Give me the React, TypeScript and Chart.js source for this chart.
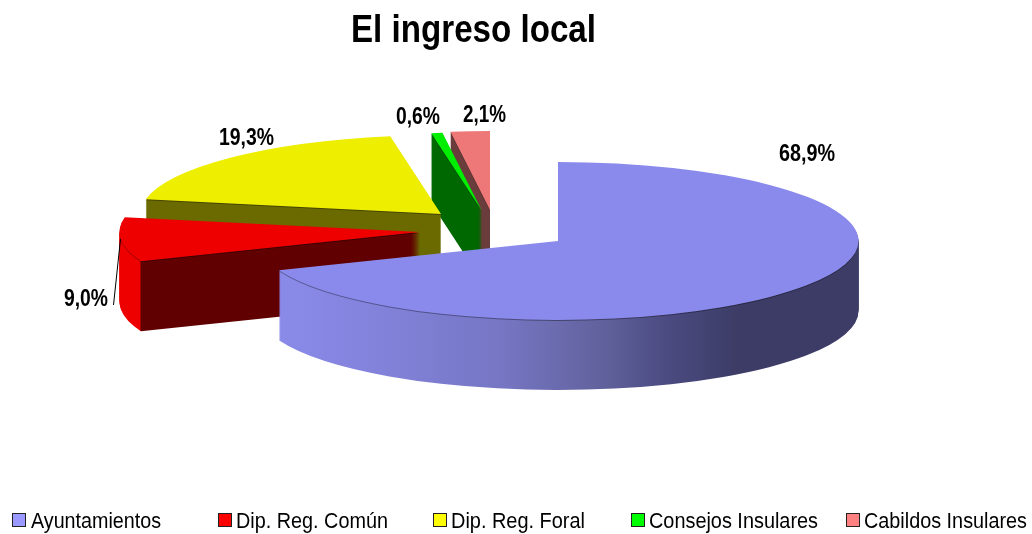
import React, { useEffect, useRef } from "react";
import { Chart, registerables } from "chart.js";

Chart.register(...registerables);

const chartTitle = "El ingreso local";
const categories = ["Ayuntamientos", "Dip. Reg. Común", "Dip. Reg. Foral", "Consejos Insulares", "Cabildos Insulares"];
const shares = [68.9, 9.0, 19.3, 0.6, 2.1];

const topColors = ["#8a8aec", "#ee0000", "#eeee00", "#00ee00", "#ee7878"];
const legendColors = ["#9999ff", "#ff0000", "#ffff00", "#00ff00", "#ff8080"];

// wall colour ramps: [screen x, colour]
const wallRamps: [number, string][][] = [
  [[277, "#8a8aea"], [360, "#8484de"], [500, "#7676c4"], [600, "#62629e"], [670, "#4a4a80"], [740, "#3c3c66"], [860, "#3c3c66"]],
  [[100, "#ee0000"], [140, "#ee0000"], [141, "#600000"], [430, "#600000"]],
  [[100, "#6a6a00"], [450, "#6a6a00"]],
  [[400, "#006800"], [500, "#006800"]],
  [[400, "#6a3c3c"], [500, "#6a3c3c"]],
];

// 3D projection layout
const pieCenter = { x: 558, y: 241 };
const radiusX = 300.5;
const radiusY = 79;
const depth = 70;
const explodeX = [0, -138, -117, -76, -68];
const explodeY = [0, -9, -27, -30, -31];
const paintOrder = [4, 3, 2, 1, 0];

// text layout: centre x, centre y, fitted width
const dataLabelLayout = [
  { x: 807, y: 154.5, w: 56 },
  { x: 86, y: 299.5, w: 44 },
  { x: 246.5, y: 138.5, w: 55 },
  { x: 418, y: 117.5, w: 44 },
  { x: 484.5, y: 115.5, w: 43 },
];
const legendLayout = [
  { box: 12, text: 31, w: 130 },
  { box: 218, text: 236, w: 152 },
  { box: 433, text: 451, w: 134 },
  { box: 631, text: 649, w: 169 },
  { box: 846, text: 864, w: 163 },
];

function fitText(ctx: CanvasRenderingContext2D, text: string, left: number, cy: number, font: string, width: number) {
  ctx.save();
  ctx.font = font;
  ctx.fillStyle = "#000";
  ctx.textBaseline = "middle";
  ctx.textAlign = "left";
  const measured = ctx.measureText(text).width;
  ctx.translate(left, cy);
  ctx.scale(width / measured, 1);
  ctx.fillText(text, 0, 0);
  ctx.restore();
}

const pie3d = {
  id: "pie3d",
  beforeDatasetDraw() {
    return false;
  },
  afterDatasetsDraw(chart: any) {
    const ctx: CanvasRenderingContext2D = chart.ctx;
    const arcs = chart.getDatasetMeta(0).data;
    const R = arcs[0].outerRadius;
    const sx = radiusX / R;
    const sy = radiusY / R;

    paintOrder.forEach((i) => {
      const el = arcs[i];
      const ox = pieCenter.x + explodeX[i];
      const oy = pieCenter.y + explodeY[i];
      const base = el.options;
      const toArc = (x: number) => el.x + (x - ox) / sx;
      const grad = ctx.createLinearGradient(toArc(0), 0, toArc(1032), 0);
      wallRamps[i].forEach(([x, c]) => grad.addColorStop(x / 1032, c));

      const place = (d: number) => {
        ctx.translate(ox, oy + d);
        ctx.scale(sx, sy);
        ctx.translate(-el.x, -el.y);
      };

      el.options = { ...base, backgroundColor: grad };
      for (let d = depth; d >= 1; d--) {
        ctx.save();
        place(d);
        el.draw(ctx);
        ctx.restore();
      }
      // thin dark seam under the top face
      el.options = { ...base, backgroundColor: "rgba(0,0,0,0.35)" };
      ctx.save();
      place(1);
      el.draw(ctx);
      ctx.restore();

      el.options = { ...base, backgroundColor: topColors[i] };
      ctx.save();
      place(0);
      el.draw(ctx);
      ctx.restore();
      el.options = base;
    });

    // leader line of the Dip. Reg. Común label
    ctx.save();
    ctx.strokeStyle = "#000";
    ctx.lineWidth = 1;
    ctx.beginPath();
    ctx.moveTo(113.5, 305);
    ctx.lineTo(120.5, 239);
    ctx.stroke();
    ctx.restore();

    // data labels
    shares.forEach((v, i) => {
      const l = dataLabelLayout[i];
      fitText(ctx, v.toFixed(1).replace(".", ",") + "%", l.x - l.w / 2, l.y, "bold 24px 'Liberation Sans'", l.w);
    });

    // title
    fitText(ctx, chartTitle, 351, 32, "bold 38px 'Liberation Sans'", 245);

    // legend
    categories.forEach((name, i) => {
      const l = legendLayout[i];
      ctx.save();
      ctx.fillStyle = legendColors[i];
      ctx.strokeStyle = "#222";
      ctx.lineWidth = 1;
      ctx.fillRect(l.box + 0.5, 513.5, 13, 13);
      ctx.strokeRect(l.box + 0.5, 513.5, 13, 13);
      ctx.restore();
      fitText(ctx, name, l.text, 521.5, "22px 'Liberation Sans'", l.w);
    });
  },
};

export default function App() {
  const ref = useRef<HTMLCanvasElement>(null);
  useEffect(() => {
    document.body.style.margin = "0";
    const chart = new Chart(ref.current!, {
      type: "pie",
      data: {
        labels: categories,
        datasets: [
          {
            data: shares,
            backgroundColor: topColors,
            borderWidth: 0,
            clip: false,
          } as any,
        ],
      },
      options: {
        responsive: false,
        animation: false,
        plugins: {
          legend: { display: false },
          title: { display: false },
          tooltip: { enabled: false },
        },
      },
      plugins: [pie3d as any],
    });
    return () => chart.destroy();
  }, []);
  return <canvas ref={ref} width={1032} height={534} style={{ display: "block" }} />;
}
